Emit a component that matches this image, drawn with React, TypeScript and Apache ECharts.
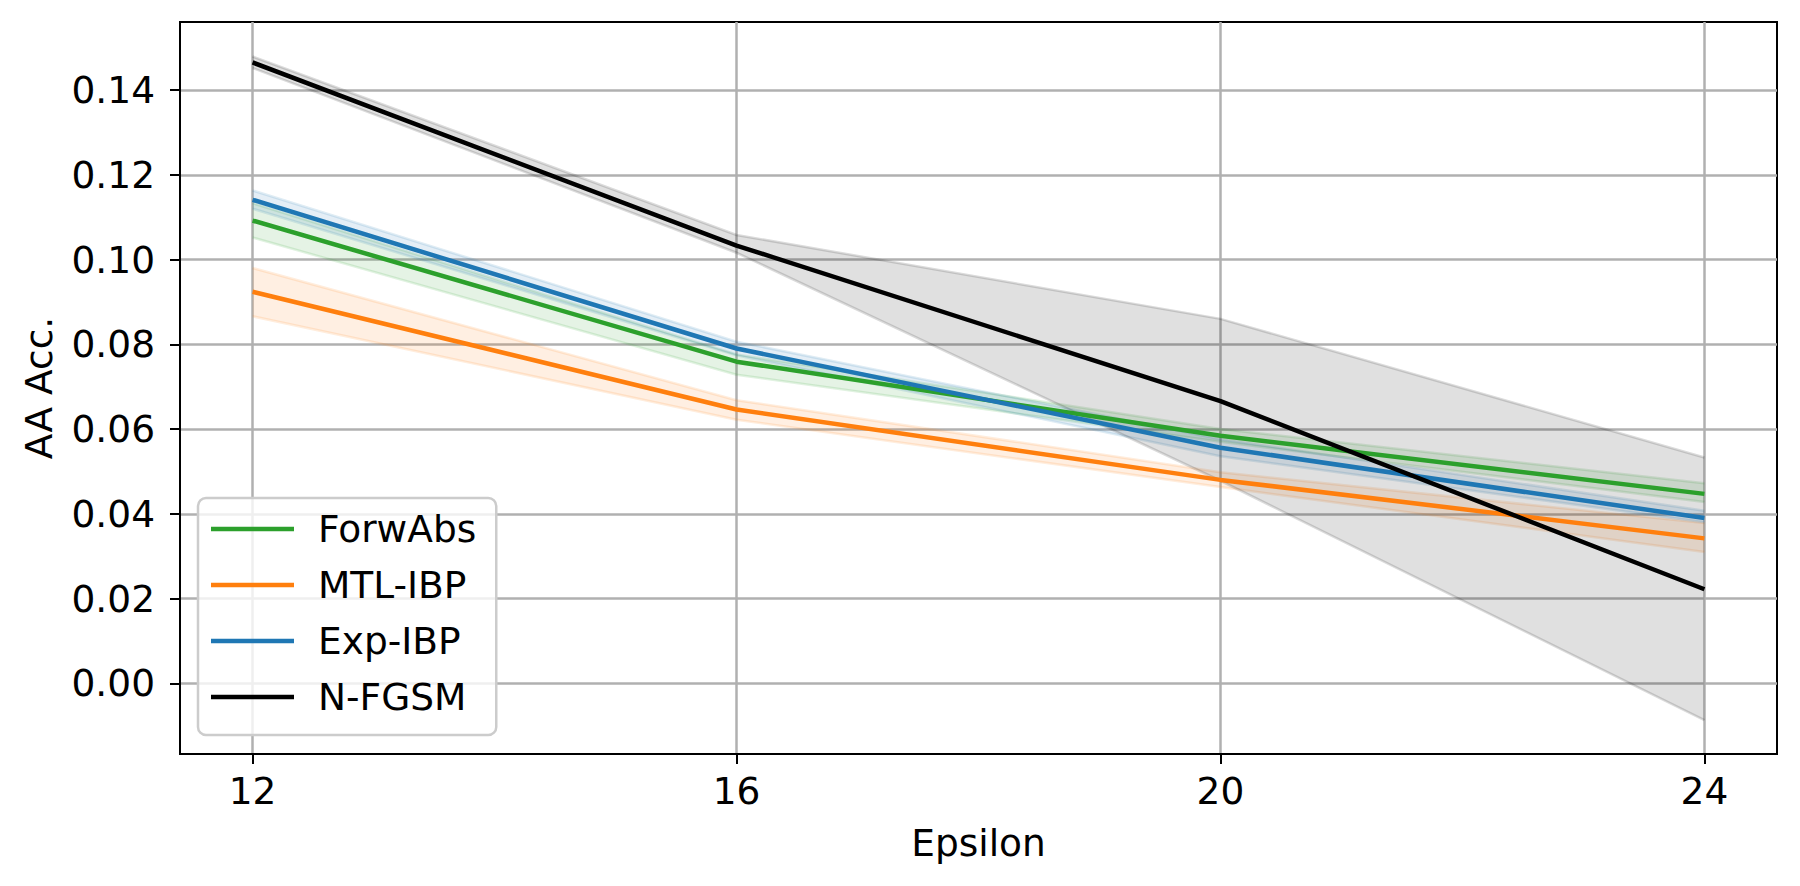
import React, { useEffect, useRef } from "react";
import * as echarts from "echarts";

const epsilons = [12, 16, 20, 24];
const xTicks = [12, 16, 20, 24];
const yTicks = [0, 0.02, 0.04, 0.06, 0.08, 0.1, 0.12, 0.14];

const forwAbsMean = [0.1092, 0.0759, 0.0584, 0.0447];
const forwAbsLow = [0.1052, 0.0728, 0.057, 0.0428];
const forwAbsHigh = [0.1133, 0.0776, 0.06, 0.0472];

const mtlMean = [0.0924, 0.0646, 0.048, 0.0342];
const mtlLow = [0.0866, 0.0622, 0.0463, 0.031];
const mtlHigh = [0.098, 0.0668, 0.0498, 0.0378];

const expMean = [0.1141, 0.079, 0.0556, 0.039];
const expLow = [0.112, 0.0774, 0.0536, 0.038];
const expHigh = [0.1163, 0.0806, 0.0576, 0.0407];

const nfgsmMean = [0.1465, 0.1033, 0.0666, 0.0222];
const nfgsmLow = [0.1452, 0.1016, 0.0478, -0.0087];
const nfgsmHigh = [0.1479, 0.1058, 0.086, 0.0533];

const FONT = "DejaVu Sans";

function hexToRgba(hex: string, a: number) {
  const h = hex.replace("#", "");
  const r = parseInt(h.substring(0, 2), 16);
  const g = parseInt(h.substring(2, 4), 16);
  const b = parseInt(h.substring(4, 6), 16);
  return `rgba(${r},${g},${b},${a})`;
}

const methods = [
  { name: "ForwAbs", color: "#2ca02c", mean: forwAbsMean, low: forwAbsLow, high: forwAbsHigh },
  { name: "MTL-IBP", color: "#ff7f0e", mean: mtlMean, low: mtlLow, high: mtlHigh },
  { name: "Exp-IBP", color: "#1f77b4", mean: expMean, low: expLow, high: expHigh },
  { name: "N-FGSM", color: "#000000", mean: nfgsmMean, low: nfgsmLow, high: nfgsmHigh },
];

export default function App() {
  const ref = useRef<HTMLDivElement>(null);

  useEffect(() => {
    if (!ref.current) return;
    const chart = echarts.init(ref.current, null, { renderer: "svg" });

    const series: any[] = [];
    methods.forEach((m) => {
      const edge = hexToRgba(m.color, 0.14);
      const fill = hexToRgba(m.color, 0.12);
      series.push({
        name: m.name + " band",
        type: "custom",
        silent: true,
        clip: true,
        z: 1,
        data: [[epsilons[0], m.mean[0]]],
        renderItem: (_params: any, api: any) => {
          const hi = epsilons.map((x, k) => api.coord([x, m.high[k]]));
          const lo = epsilons.map((x, k) => api.coord([x, m.low[k]]));
          return {
            type: "group",
            children: [
              {
                type: "polygon",
                shape: { points: hi.concat(lo.slice().reverse()) },
                style: { fill, stroke: "none" },
              },
              {
                type: "polyline",
                shape: { points: hi },
                style: { stroke: edge, lineWidth: 2.5, fill: "none" },
              },
              {
                type: "polyline",
                shape: { points: lo },
                style: { stroke: edge, lineWidth: 2.5, fill: "none" },
              },
            ],
          };
        },
      });
    });
    methods.forEach((m, i) => {
      series.push({
        name: m.name,
        type: "line",
        symbol: "none",
        z: 3 + i,
        lineStyle: { color: m.color, width: 4.5 },
        itemStyle: { color: m.color },
        data: epsilons.map((x, k) => [x, m.mean[k]]),
      });
    });

    chart.setOption({
      animation: false,
      grid: {
        left: 180,
        right: 23,
        top: 22,
        bottom: 132,
        show: true,
        borderColor: "#000",
        borderWidth: 2,
        backgroundColor: "transparent",
      },
      legend: {
        data: methods.map((m) => m.name),
        orient: "vertical",
        left: 198,
        top: 498,
        padding: [3, 20, 10, 13],
        itemGap: 0,
        itemWidth: 83,
        itemHeight: 4.5,
        icon: "rect",
        backgroundColor: "rgba(255,255,255,0.8)",
        borderColor: "#cccccc",
        borderWidth: 2.5,
        borderRadius: 8,
        textStyle: {
          fontFamily: FONT,
          fontSize: 37.5,
          color: "#000",
          lineHeight: 56,
          padding: [0, 0, 0, 19],
        },
      },
      xAxis: {
        type: "value",
        min: 11.4,
        max: 24.6,
        name: "Epsilon",
        nameLocation: "middle",
        nameGap: 70,
        nameTextStyle: { fontFamily: FONT, fontSize: 37.5, color: "#000" },
        axisLine: { show: true, onZero: false, lineStyle: { color: "#000", width: 2 } },
        axisTick: { show: true, length: 10, lineStyle: { color: "#000", width: 2 }, customValues: xTicks },
        axisLabel: {
          customValues: xTicks,
          fontFamily: FONT,
          fontSize: 37.5,
          color: "#000",
          margin: 18,
          formatter: (v: number) => String(v),
        },
        splitLine: { show: true, lineStyle: { color: "#b0b0b0", width: 2.5 } },
      },
      yAxis: {
        type: "value",
        min: -0.01668,
        max: 0.15605,
        name: "AA Acc.",
        nameLocation: "middle",
        nameGap: 122,
        nameTextStyle: { fontFamily: FONT, fontSize: 37.5, color: "#000" },
        axisLine: { show: true, onZero: false, lineStyle: { color: "#000", width: 2 } },
        axisTick: { show: true, length: 10, lineStyle: { color: "#000", width: 2 }, customValues: yTicks },
        axisLabel: {
          customValues: yTicks,
          fontFamily: FONT,
          fontSize: 37.5,
          color: "#000",
          margin: 25,
          formatter: (v: number) => v.toFixed(2),
        },
        splitLine: { show: true, lineStyle: { color: "#b0b0b0", width: 2.5 } },
      },
      series,
    });

    return () => chart.dispose();
  }, []);

  return (
    <div
      ref={ref}
      style={{ position: "absolute", left: 0, top: 0, width: 1800, height: 886, background: "#fff" }}
    />
  );
}
